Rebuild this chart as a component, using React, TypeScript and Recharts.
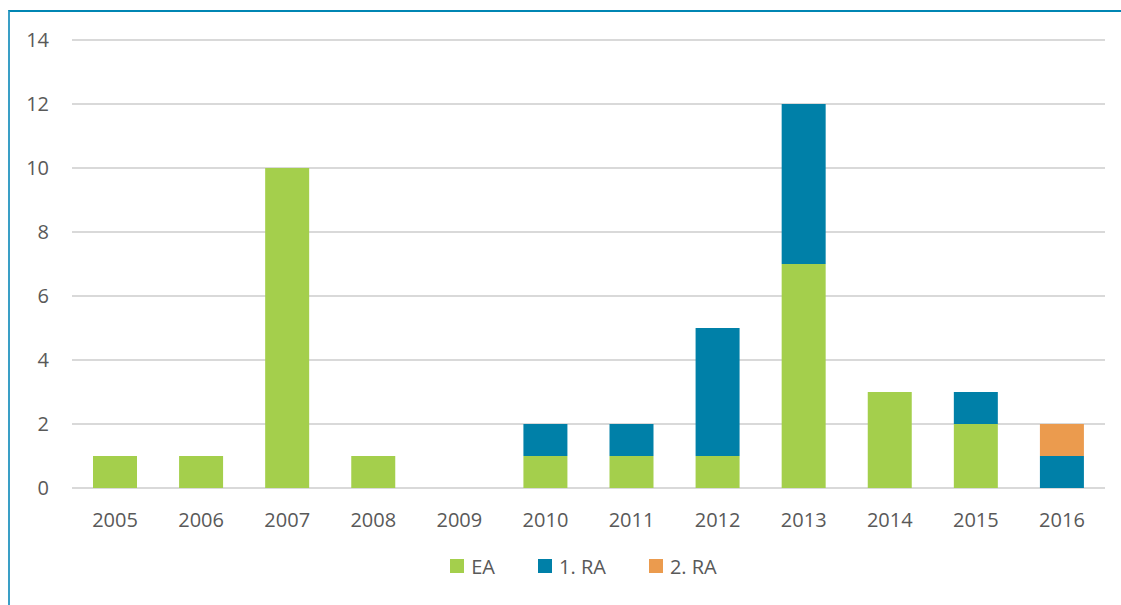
import React from 'react';
import { BarChart, Bar, XAxis, YAxis, CartesianGrid, Legend } from 'recharts';

const years = ['2005', '2006', '2007', '2008', '2009', '2010', '2011', '2012', '2013', '2014', '2015', '2016'];
const eaValues = [1, 1, 10, 1, 0, 1, 1, 1, 7, 3, 2, 0];
const ra1Values = [0, 0, 0, 0, 0, 1, 1, 4, 5, 0, 1, 1];
const ra2Values = [0, 0, 0, 0, 0, 0, 0, 0, 0, 0, 0, 1];
const yTicks = [0, 2, 4, 6, 8, 10, 12, 14];

const series = [
  { key: 'ea', name: 'EA', color: '#a4cf4c' },
  { key: 'ra1', name: '1. RA', color: '#0080a8' },
  { key: 'ra2', name: '2. RA', color: '#eb9b4e' },
];

const data = years.map((year, i) => ({
  year,
  ea: eaValues[i],
  ra1: ra1Values[i],
  ra2: ra2Values[i],
}));

const font = '"Open Sans", sans-serif';
const textColor = '#595959';

const renderLegend = () => (
  <div style={{ display: 'flex', justifyContent: 'center', alignItems: 'center', height: 24, paddingLeft: 30, gap: 43 }}>
    {series.map((s) => (
      <div key={s.key} style={{ display: 'flex', alignItems: 'center' }}>
        <span style={{ width: 14, height: 14, background: s.color, display: 'inline-block', marginRight: 7 }} />
        <span style={{ fontFamily: font, fontSize: 20, color: textColor }}>{s.name}</span>
      </div>
    ))}
  </div>
);

export default function App() {
  return (
    <div
      style={{
        position: 'fixed',
        left: 8,
        top: 10,
        width: 1113,
        height: 595,
        borderTop: '2px solid #0086b3',
        borderLeft: '2px solid #3a9fc6',
        background: '#fff',
      }}
    >
      <BarChart
        width={1111}
        height={593}
        data={data}
        margin={{ top: 28, right: 16, left: 22, bottom: 27 }}
      >
        <CartesianGrid vertical={false} stroke="#d9d9d9" strokeWidth={2} />
        <XAxis
          dataKey="year"
          axisLine={false}
          tickLine={false}
          height={66}
          tickMargin={19}
          tick={{ fill: textColor, fontSize: 20, fontFamily: font }}
        />
        <YAxis
          width={40}
          domain={[0, 14]}
          ticks={yTicks}
          axisLine={false}
          tickLine={false}
          tickMargin={17}
          tick={{ fill: textColor, fontSize: 20, fontFamily: font }}
        />
        <Legend verticalAlign="bottom" content={renderLegend} />
        {series.map((s) => (
          <Bar
            key={s.key}
            dataKey={s.key}
            name={s.name}
            stackId="a"
            fill={s.color}
            barSize={44}
            isAnimationActive={false}
          />
        ))}
      </BarChart>
    </div>
  );
}
